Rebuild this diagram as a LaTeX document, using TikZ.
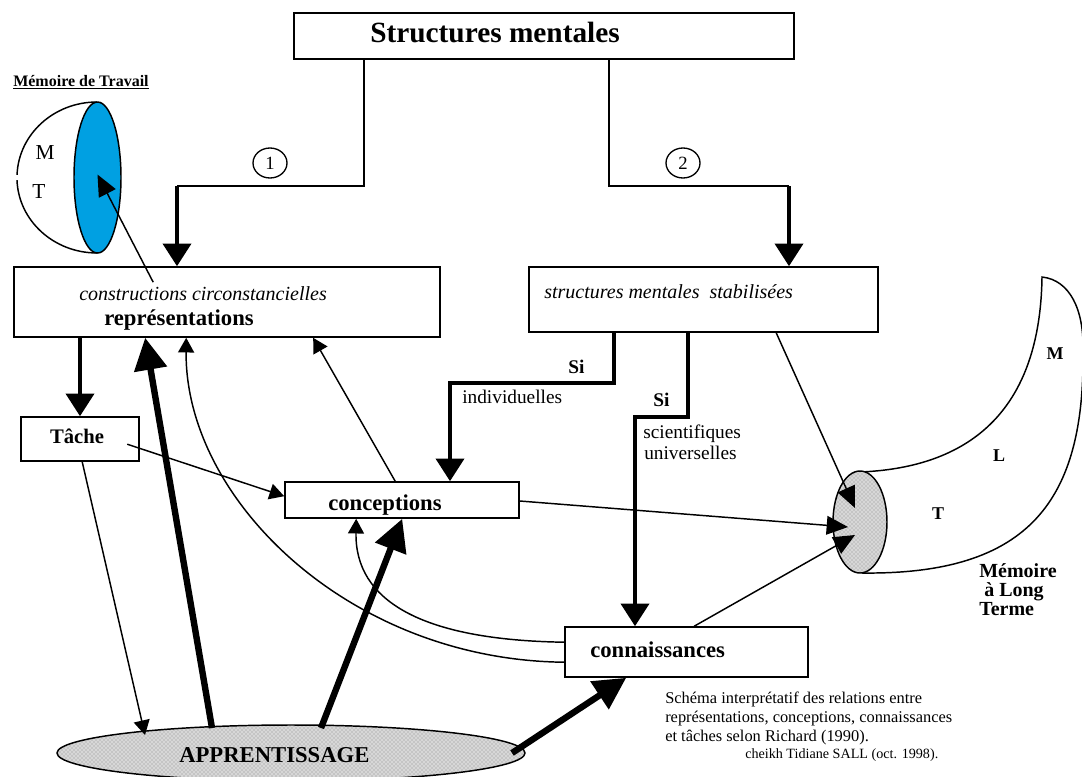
\documentclass[tikz,border=0pt]{standalone}
\usepackage{fontspec}
\setmainfont{Liberation Serif}
\usetikzlibrary{arrows.meta,fit,calc,shapes.geometric,patterns}
\definecolor{mtblue}{RGB}{0,160,226}
\definecolor{stipple}{RGB}{215,215,215}
\begin{document}
\begin{tikzpicture}[x=0.75pt,y=-0.75pt,
  box/.style={draw, line width=1.2pt, inner sep=0pt},
  thinline/.style={line width=1.1pt},
  thinarrow/.style={line width=1.1pt, -{Triangle[length=11pt,width=12pt]}},
  midarrow/.style={line width=1.1pt, -{Triangle[length=16pt,width=14pt]}},
  thickarrow/.style={line width=3pt, -{Triangle[length=17pt,width=21pt]}},
  bigarrow/.style={line width=4.8pt, -{Triangle[length=24pt,width=24pt]}},
  lbl/.style={inner sep=0pt, anchor=base west},
  ctr/.style={inner sep=0pt, anchor=center},
  boldlbl/.style={lbl, font=\bfseries\fontsize{17}{20}\selectfont},
  itlbl/.style={lbl, font=\itshape\fontsize{15}{18}\selectfont},
  smalllbl/.style={lbl, font=\fontsize{14.5}{17}\selectfont},
  silbl/.style={lbl, font=\bfseries\fontsize{14.5}{17}\selectfont},
  dotted fill/.style={preaction={fill=stipple}, pattern=crosshatch dots, pattern color=black!45},
  numcircle/.style={ellipse, draw, line width=1pt, minimum width=25.5pt, minimum height=22.5pt, inner sep=0pt, font=\fontsize{14}{14}\selectfont},
]
\useasboundingbox (0,0) rectangle (1082,776);
\fill[white] (0,0) rectangle (1082,776);

% ---------- boxes ----------
\node[box, fit={(294,13) (794,59)}] (sm) {};
\node[box, fit={(14,267) (440,337)}] (rep) {};
\node[box, fit={(529,267) (878,332)}] (stab) {};
\node[box, fit={(21,417) (139,461)}] (tache) {};
\node[box, fit={(285,482) (519,518)}] (conc) {};
\node[box, fit={(565,627) (808,677)}] (conn) {};

% ---------- texts in boxes ----------
\node[lbl, font=\bfseries\fontsize{22}{26}\selectfont] (smt) at (370,42) {Structures mentales};
\node[itlbl] (rept1) at (79,300) {constructions circonstancielles};
\node[boldlbl] (rept2) at (104,325) {représentations};
\node[itlbl] (stabt) at (544,298) {structures mentales~~stabilisées};
\node[inner sep=0pt, anchor=base, font=\bfseries\fontsize{15.5}{18}\selectfont] (tachet) at (77,443) {Tâche};
\node[boldlbl] (conct) at (328,510) {conceptions};
\node[boldlbl] (connt) at (590,657) {connaissances};

% ---------- Mémoire de travail ----------
\node[lbl, font=\bfseries\fontsize{12}{14}\selectfont] (mdt) at (13,86) {\underline{Mémoire de Travail}};
\draw[line width=1.1pt] (97,102) arc[start angle=270, end angle=182, x radius=80, y radius=75.5];
\draw[line width=1.1pt] (17,180.1) arc[start angle=178, end angle=90, x radius=80, y radius=75.5];
\node[ellipse, draw, line width=1.1pt, fill=mtblue, minimum width=35.25pt, minimum height=113.25pt, inner sep=0pt] (mt) at (97.5,177.5) {};
\node[ctr, font=\fontsize{16}{18}\selectfont] (mtM) at (45,153) {M};
\node[ctr, font=\fontsize{16}{18}\selectfont] (mtT) at (39,192) {T};

% ---------- Mémoire à long terme ----------
\draw[line width=1.1pt] (860,472) .. controls (960,468) and (1040,420) .. (1042,277)
  .. controls (1070,280) and (1084,310) .. (1083,350)
  .. controls (1085,500) and (1030,575) .. (862,573);
\node[ellipse, draw, line width=1.1pt, dotted fill, minimum width=40.5pt, minimum height=76.5pt, inner sep=0pt] (mlt) at (860,522) {};
\node[ctr, font=\bfseries\fontsize{13.5}{16}\selectfont] (mltM) at (1055,354) {M};
\node[ctr, font=\bfseries\fontsize{13.5}{16}\selectfont] (mltL) at (999,456) {L};
\node[ctr, font=\bfseries\fontsize{13.5}{16}\selectfont] (mltT) at (938,514) {T};
\node[lbl, font=\bfseries\fontsize{15}{18}\selectfont] (mlt1) at (979,577) {Mémoire};
\node[lbl, font=\bfseries\fontsize{15}{18}\selectfont] (mlt2) at (979,596) {~à Long};
\node[lbl, font=\bfseries\fontsize{15}{18}\selectfont] (mlt3) at (979,615) {Terme};

% ---------- apprentissage ----------
\node[ellipse, draw, line width=1.1pt, dotted fill, minimum width=351pt, minimum height=42pt, inner sep=0pt] (app) at (291,753) {};
\node[boldlbl] (appt) at (179,762) {APPRENTISSAGE};

% ---------- numbered circles ----------
\node[numcircle] (n1) at (270,163) {1};
\node[numcircle] (n2) at (683,163) {2};

% ---------- connectors from Structures mentales ----------
\coordinate (k1) at (177,186);
\coordinate (k2) at (789,186);
\draw[thinline] ($(sm.south west)+(71,0)$) |- (k1);
\draw[thickarrow] (k1) -- (k1 |- rep.north);
\draw[thinline] ($(sm.south west)+(316,0)$) |- (k2);
\draw[thickarrow] (k2) -- (k2 |- stab.north);

% ---------- Si paths ----------
\coordinate (k3) at (450,383);
\coordinate (k4) at (635,417);
\draw[thickarrow] ($(stab.south west)+(86,0)$) |- (k3) -- (k3 |- conc.north);
\draw[thickarrow] ($(stab.south west)+(160,0)$) |- (k4) -- (k4 |- conn.north);
\node[silbl] (si1) at (568,373) {Si};
\node[smalllbl] (ind) at (462,403) {individuelles};
\node[silbl] (si2) at (653,406) {Si};
\node[smalllbl] (sci) at (643,438) {scientifiques};
\node[smalllbl] (uni) at (644,459) {universelles};

% ---------- other connectors ----------
\draw[thickarrow] (rep.south -| tache.north) -- (tache.north);
\draw[thinarrow] ($(tache.north west)+(107,28)$) -- ($(conc.north west)+(0,15)$);
\draw[thinarrow] ($(tache.south west)+(62,0)$) -- ($(app.center)+(-146,-18)$);
\draw[thinarrow] ($(conc.north west)+(111,0)$) -- ($(rep.south west)+(300,0)$);
\draw[thinarrow] ($(conn.north west)+(0,36)$) .. controls (350,660) and (185,500) .. ($(rep.south west)+(173,0)$);
\draw[thinarrow] ($(conn.north west)+(0,16)$) .. controls (420,640) and (355,600) .. ($(conc.south west)+(72,0)$);
\draw[midarrow] ($(rep.north west)+(140,16)$) -- ($(mt.center)+(0,-3)$);
\draw[midarrow] ($(stab.south west)+(248,0)$) -- ($(mlt.center)+(-5,-14)$);
\draw[midarrow] ($(conc.east)+(0,1)$) -- ($(mlt.center)+(-12,5)$);
\draw[midarrow] ($(conn.north west)+(130,0)$) -- ($(mlt.center)+(-5,13)$);

% ---------- big arrows from apprentissage ----------
\draw[bigarrow] ($(app.center)+(-79,-25)$) -- ($(rep.south west)+(132,0)$);
\draw[bigarrow] ($(app.center)+(30,-25)$) -- ($(conc.south west)+(118,0)$);
\draw[bigarrow] ($(app.center)+(221,0)$) -- ($(conn.south west)+(62,0)$);

% ---------- caption ----------
\node[lbl, font=\fontsize{12.3}{14}\selectfont] (cap1) at (665,703) {Schéma interprétatif des relations entre};
\node[lbl, font=\fontsize{12.3}{14}\selectfont] (cap2) at (665,722) {représentations, conceptions, connaissances};
\node[lbl, font=\fontsize{12.3}{14}\selectfont] (cap3) at (665,741) {et tâches selon Richard (1990).};
\node[lbl, font=\fontsize{10.6}{12}\selectfont] (auth) at (745,758) {cheikh Tidiane SALL (oct. 1998).};
\end{tikzpicture}
\end{document}
